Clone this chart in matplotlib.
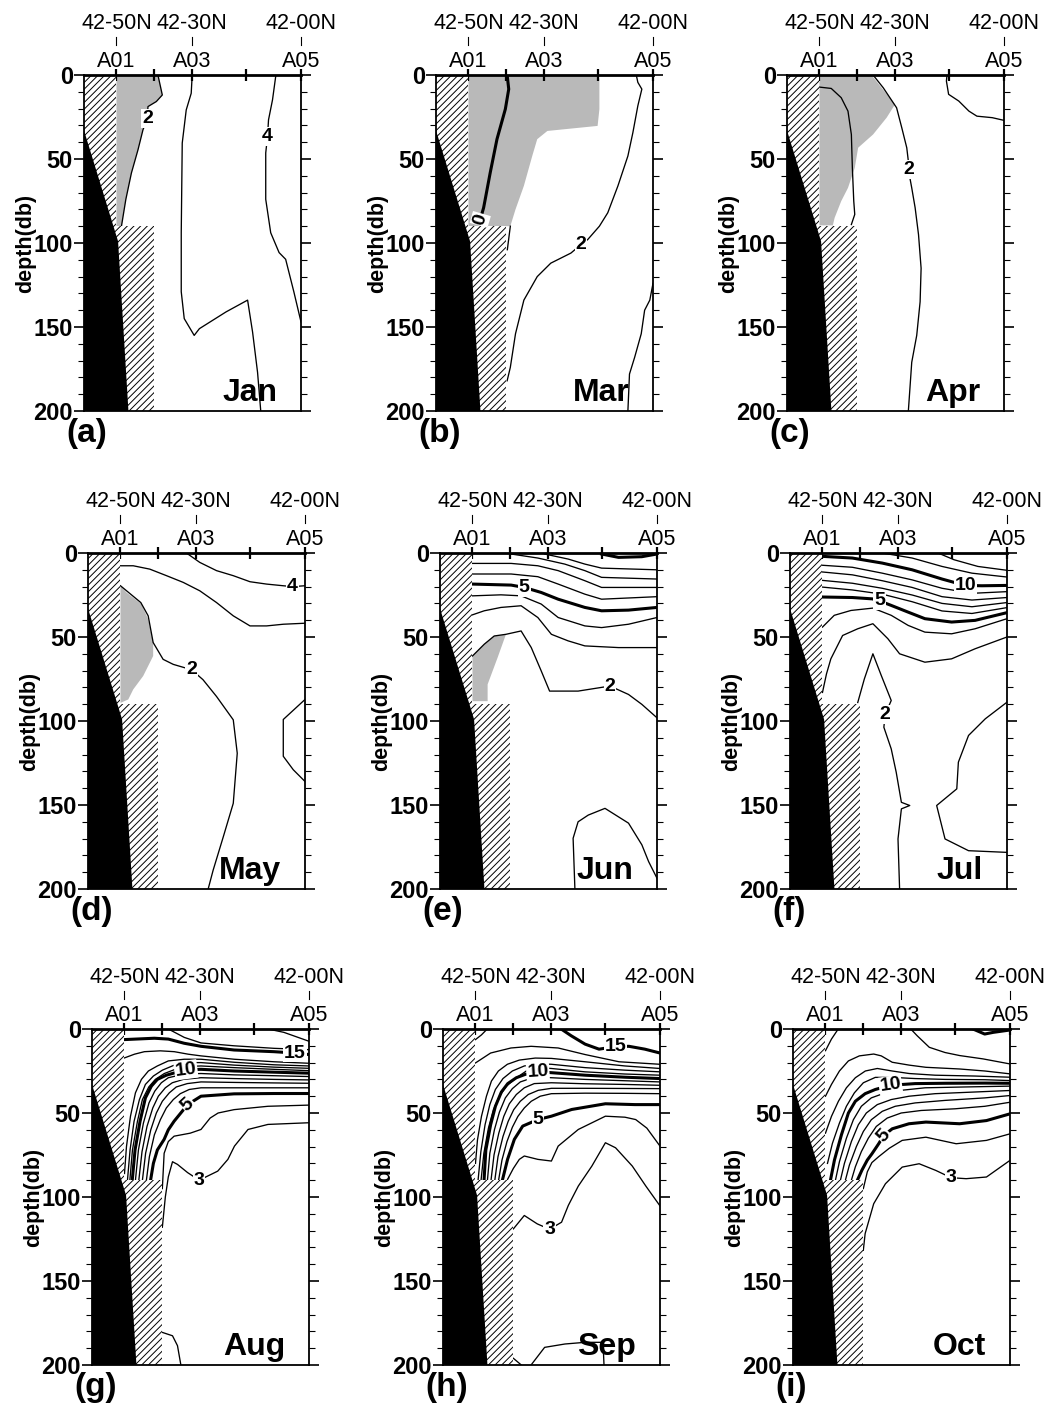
import math
import matplotlib
matplotlib.use("Agg")
import matplotlib.pyplot as plt
import matplotlib.transforms as mtransforms

plt.rcParams['font.family'] = ['Liberation Sans', 'DejaVu Sans']
plt.rcParams['hatch.linewidth'] = 0.7

# stations along the section, km from A01
STATIONS = [0.0, 19.0, 38.0, 65.0, 92.6]
STATION_NAMES = ['A01', '', 'A03', '', 'A05']
LATITUDES = ['42-50N', '', '42-30N', '', '42-00N']
X_WEST = -16.3
X_EAST = 92.6
DEPTH_MAX = 200

# bottom topography (black) and the hatched no-data areas
BOTTOM_X = [X_WEST, 0.8, 6.0, X_WEST]
BOTTOM_Z = [33, 99, 200, 200]
HATCH_WEST_X = [X_WEST, 0.0, 0.0, X_WEST]
HATCH_WEST_Z = [0, 0, 200, 200]
HATCH_SHELF_X = [0.0, 19.0, 19.0, 0.0]
HATCH_SHELF_Z = [90, 90, 200, 200]

# isotherms: (temperature, km, depth, vertex carrying the label or None)
JAN = [
    (2, [20.8, 23.0, 20.0, 15.8, 15.5, 13.3, 10.8, 7.5, 4.7, 2.5, 0.0],
        [0, 11.9, 15.8, 18.8, 26, 32.6, 44.5, 58.3, 74, 90, 92], 4),
    (3, [38, 37.5, 35, 33, 32.5, 32.5, 34, 39, 41.6, 55, 65.8, 68.3, 70.8, 72.4],
        [0, 10.9, 20.8, 40.5, 93.9, 129, 145, 155, 151, 141, 134, 153, 177, 200], None),
    (4, [80, 78.3, 76.3, 75.8, 74.9, 74.9, 77.4, 81.6, 84.9, 89, 92.6],
        [0, 14.8, 26.7, 36.5, 46.4, 74, 93.9, 105.7, 109.7, 129, 147], 3),
]
JAN_GRAY_X = [0, 20.8, 23.0, 20.0, 15.8, 15.5, 13.3, 10.8, 7.5, 4.7, 2.5, 0]
JAN_GRAY_Z = [0, 0, 11.9, 15.8, 18.8, 26, 32.6, 44.5, 58.3, 74, 90, 92]

MAR = [
    (0, [19.4, 20.2, 18.5, 14.3, 10.9, 8.4, 7.6, 5.9],
        [0, 8.4, 20.3, 38.2, 58.2, 74, 79, 86], 7),
    (1, [21, 19.5], [90, 104], None),
    (2, [84.2, 85, 87, 85, 82.5, 80, 75, 69.9, 65.7, 59.8, 56.4, 51.4, 41.3, 34.5, 27.8, 23.6, 21, 19.4],
        [0, 4.4, 8.4, 18.3, 34.3, 48.2, 66, 82, 90, 98, 101, 106, 112, 120, 134, 154, 174, 182], 10),
    (2, [92.6, 91, 88.4, 86.7, 83.4, 80.8, 80],
        [124, 134, 140, 154, 168, 178, 200], None),
]
MAR_GRAY_X = [0, 64.8, 65.7, 65.7, 64.8, 56.4, 39.6, 34.5, 32, 27.8, 23.6, 21, 0]
MAR_GRAY_Z = [0, 0, 2.4, 20.3, 30.3, 31.3, 33.3, 38.2, 48.2, 66, 80, 90, 90]

APR = [
    (1, [0, 5.9, 10.9, 14.3, 16, 16.5, 17.2, 17.7, 16],
        [7.2, 8, 13.5, 21.5, 35.4, 55.3, 75, 83, 89], None),
    (2, [26.9, 32, 38.7, 41.3, 43.8, 44.6, 44.6, 46.3, 48, 49.7, 51, 50.5, 48.8, 46.3, 44.6],
        [0, 7.6, 19.5, 31.4, 43.3, 51.3, 56.3, 67.2, 79, 95, 115, 135, 155, 171, 200], 6),
    (3, [64, 63.7, 64.8, 69.9, 75, 79, 86.7, 92.6],
        [0, 3.6, 11.5, 15.5, 21.5, 24.5, 25.4, 27], None),
]
APR_GRAY_X = [0, 26.1, 31.2, 37.9, 33.7, 26.9, 19.4, 17.7, 14.3, 10.9, 7.6, 6.7, 0]
APR_GRAY_Z = [0, 0, 7.6, 17.5, 25.4, 35.4, 43.3, 55.3, 67.2, 75.1, 85, 89.5, 89.5]

MAY = [
    (4, [33.1, 39.8, 48.2, 56.6, 65, 73.3, 81.7, 86.3, 92.6],
        [0, 5.6, 10.5, 13.5, 17.1, 18.5, 19.5, 20, 19.5], 7),
    (3, [0, 6.4, 14.7, 23.1, 31.5, 39.8, 48.2, 56.6, 65, 73.3, 81.7, 92.6],
        [7.6, 7.6, 9.6, 13.5, 17.5, 22.5, 29.5, 37.4, 43.4, 43.4, 42.4, 41.8], None),
    (2, [0, 10.2, 13.9, 16.4, 21.4, 26.5, 35.7, 41.4, 48.2, 56.6, 58.6, 56.6, 51.6, 46.5, 44],
        [19.5, 29.5, 37.4, 53.3, 63.3, 66.3, 69.5, 75.4, 85.4, 99.3, 119.2, 149, 168.9, 188.8, 200], 6),
    (3, [92.6, 81.7, 81.7, 86.7, 92.6], [87.2, 99.1, 121, 129, 136], None),
]
MAY_GRAY_X = [0, 3, 10.5, 13.9, 16.4, 16.4, 11.4, 6.4, 3.9, 0]
MAY_GRAY_Z = [19.5, 23.5, 30.4, 39.4, 53.3, 61.3, 73.2, 81.2, 87.2, 89.2]

JUN = [
    (10, [64.8, 73.3, 85, 92.6], [0.6, 2.6, 2.2, 0.6], None),
    (9, [36.2, 48, 56.4, 64.8, 92.6], [0.6, 3.6, 6.6, 9, 10], None),
    (8, [19.4, 32.8, 46.3, 56.4, 64.8, 92.6], [0.6, 3, 6.6, 10.5, 14.5, 15.5], None),
    (7, [0, 19.4, 32.8, 43, 56.4, 64.8, 92.6], [6.2, 6.2, 7.6, 10.5, 16.5, 20.5, 20.5], None),
    (6, [0, 19.4, 32.8, 43, 56.4, 64.8, 92.6], [12.5, 12.5, 14.1, 18.5, 24.5, 27.5, 26], None),
    (5, [0, 19.4, 26, 34.5, 43, 56.4, 64.8, 78.3, 92.6],
        [18.5, 19.1, 20.5, 23.5, 27.5, 32.4, 34.4, 34, 32.4], 2),
    (4, [0, 14.3, 24.4, 34.5, 43, 56.4, 64.8, 78.3, 92.6],
        [25.5, 24.9, 25.5, 30.4, 38.4, 43.4, 44.4, 42.4, 38.4], None),
    (3, [0, 5.9, 14.3, 24.4, 32.8, 39.6, 48, 56.4, 73.3, 92.6],
        [36.8, 34.4, 32.4, 31.4, 38.4, 48.4, 52.3, 55.3, 56.3, 56.3], None),
    (2, [0, 5.9, 10.9, 16.8, 24.4, 29.5, 34.5, 38.7, 53, 69, 78.3, 85, 92.6],
        [61.3, 54.3, 49.4, 48.4, 46.4, 56.3, 70.2, 82.2, 82.2, 79.2, 84.2, 90.1, 98.1], 9),
    (2, [51.4, 50.5, 53, 58.1, 66.5, 78.3, 85, 88.4, 92.6],
        [200, 169.8, 160, 156, 152, 160.8, 173.7, 183.7, 193.6], None),
]
JUN_GRAY_X = [0, 5.9, 10.9, 16.8, 12.6, 7.6, 7.6, 0]
JUN_GRAY_Z = [61.3, 54.3, 49.4, 48.4, 62.3, 78.2, 88.2, 88.2]

JUL = [
    (12, [58, 66, 78, 92.6], [0, 4, 8, 10.3], None),
    (11, [30, 45, 60, 75, 92.6], [0, 3, 8, 12, 14.3], None),
    (10, [0, 15, 30, 45, 60, 71.6, 80, 92.6], [2, 3, 6, 10, 15.5, 19.3, 19.5, 19.3], 5),
    (9, [0, 15, 30, 45, 60, 75, 92.6], [7.3, 8.5, 12, 16, 21, 24, 23], None),
    (8, [0, 15, 30, 45, 60, 75, 92.6], [11.3, 13, 16.5, 20.5, 26, 28, 26.5], None),
    (7, [0, 15, 30, 45, 60, 75, 92.6], [16.3, 18, 21, 25, 30, 32, 29.5], None),
    (6, [0, 15, 30, 45, 60, 75, 92.6], [20.3, 22, 24.5, 29, 34.5, 36, 32.5], None),
    (5, [0, 15, 25, 28.6, 34.5, 43, 51.4, 64.8, 76.6, 92.6],
        [26.2, 26.5, 27.3, 28.5, 31.2, 35.2, 39.1, 41.1, 40.1, 35.5], 3),
    (4, [0, 5.9, 14.3, 25.3, 34.5, 43, 51.4, 64.8, 76.6, 92.6],
        [44.1, 37.1, 34.2, 32.8, 37.1, 43.1, 47.1, 48.1, 45.1, 39.1], None),
    (3, [0, 2, 4.2, 10.1, 17.7, 25.3, 32.8, 38.7, 51.4, 64.8, 76.6, 92.6],
        [83, 72, 63, 49.1, 45.1, 42.1, 51, 60, 65, 63, 57, 50], None),
    (2, [17.7, 21, 25.3, 29.5, 34.5, 31.5, 30.8, 34.5, 37, 39.6, 43.8, 39.6, 37.9, 38.7],
        [89, 75, 60, 72.9, 87.8, 96, 103.7, 116.6, 130.5, 148.4, 150.3, 152.3, 170.2, 200], 5),
    (2, [92.6, 81.7, 73.3, 68.2, 67.4, 57.3, 61.5, 73.3, 92.6],
        [88.8, 98.7, 108.6, 124.5, 140.4, 150.3, 170.2, 177.2, 178.2], None),
]

AUG = [
    (17, [72, 80, 92.6], [0, 2, 7.3], None),
    (16, [22, 30, 38.4, 55, 75, 92.6], [0, 5, 8.3, 10, 11.5, 12.3], None),
    (15, [0, 15, 22, 30, 38.4, 55, 75, 85.5, 92.6],
         [6.3, 5.5, 6, 8.5, 10.3, 12.5, 13.5, 14.3, 15.2], 7),
    (14, [0, 5, 10, 18, 25, 32, 38.4, 55, 75, 92.6],
         [17.2, 15, 13.5, 13, 13.5, 15, 16, 18, 19.5, 20.4], None),
    (13, [0, 1, 3, 5.5, 8.5, 12, 16.5, 22, 30, 38.4, 55, 75, 92.6],
         [86, 70, 52, 38, 30, 25, 22, 19, 18, 18, 19.8, 21.3, 22], None),
    (12, [1.5, 2.8, 4.8, 7.5, 10.5, 14.5, 19, 25, 32, 38.4, 55, 75, 92.6],
         [90, 72, 55, 42, 33, 28, 24.5, 21.5, 20, 20, 21.5, 22.7, 23.4], None),
    (11, [2.7, 4, 6.5, 9, 12.2, 15.5, 20, 25.5, 32, 38.4, 55, 75, 92.6],
         [90, 72, 55, 42, 34.5, 30, 26.5, 24, 22.3, 22, 23, 24, 24.8], None),
    (10, [3.9, 5.3, 7.8, 10.5, 13.5, 16.5, 21, 25.5, 30.8, 38.4, 55, 75, 92.6],
         [90, 72, 55, 41, 34, 30, 27.5, 26, 24.3, 24, 25, 25.7, 26.3], 8),
    (9, [5.5, 7, 9.5, 12.3, 15.2, 18.5, 22, 27.5, 33, 38.4, 55, 75, 92.6],
        [90, 72, 56, 44, 37, 32, 29, 27.5, 26.7, 26.5, 27.3, 27.8, 28.3], None),
    (8, [7.2, 8.8, 11.3, 14.2, 17, 20.5, 24, 29.5, 38.4, 55, 75, 92.6],
        [90, 73, 58, 47, 40, 35, 32, 30, 29, 29.5, 30, 30.3], None),
    (7, [9, 10.6, 13.2, 16, 19, 22.5, 26, 31.5, 38.4, 55, 75, 92.6],
        [90, 74, 60, 50, 43, 38, 34.5, 32.5, 31.5, 31.8, 32.1, 32.3], None),
    (6, [11, 12.5, 15, 18, 21, 24.5, 28, 32.5, 38.4, 55, 75, 92.6],
        [90, 76, 63, 54, 47, 42, 38.5, 36, 35, 35, 35, 35], None),
    (5, [13.1, 14.5, 16.5, 19.9, 22, 24.9, 31.7, 38.4, 55, 75, 92.6],
        [90, 80, 72, 65.7, 60, 54.9, 45, 40, 38.6, 38.4, 38.4], 6),
    (4, [19, 19.9, 22, 24.9, 33, 38.4, 43, 47, 55, 72, 92.6],
        [95, 74, 67, 63.8, 62, 59.8, 53, 50, 48, 46, 45.3], None),
    (3, [19, 20.5, 22, 24.1, 26.6, 31.7, 37.5, 41.8, 46.8, 51.9, 55.2, 62, 72, 92.6],
        [118, 100, 88, 79, 80.6, 85.5, 90, 87.5, 84.6, 77.6, 69.7, 59.8, 56.8, 55.8], 6),
    (3, [19, 24.1, 26.6, 28.3], [180.6, 182.6, 188.5, 200], None),
]

SEP = [
    (15, [43, 48, 55, 62, 70.3, 77, 85, 92.6], [0, 4, 9, 12, 10.5, 10.3, 12, 14.3], 4),
    (14, [5.9, 3, 0], [0, 3.5, 6.3], None),
    (14, [0, 7.6, 17.8, 27.9, 41.5, 55, 72, 92.6], [20.2, 14.3, 11.3, 10.3, 11.3, 15.2, 19.5, 21], None),
    (13, [0, 1, 3, 5.5, 8, 11.5, 16, 22, 30, 38.1, 55, 75, 92.6],
         [80, 66, 52, 40, 31, 25, 21, 18.5, 17.3, 17.5, 19.5, 22, 23.5], None),
    (12, [1.3, 2.7, 4.8, 7.2, 10, 13.8, 18.5, 24.5, 31.3, 38.1, 55, 75, 92.6],
         [90, 73, 57, 45, 36, 29.5, 25, 22, 20.7, 21, 23, 24.5, 25.5], None),
    (11, [2.8, 4.2, 6.5, 9, 12, 15.5, 20, 25.5, 31.3, 38.1, 55, 75, 92.6],
         [90, 74, 59, 48, 40, 34, 29.5, 25, 23, 23.5, 25.5, 26.8, 27.5], None),
    (10, [4.3, 5.2, 7.6, 10, 13, 16.2, 20.5, 25, 31.3, 38.1, 55, 75, 92.6],
         [90, 72, 57, 46, 37.5, 32.5, 29, 27, 25.5, 26, 27.5, 28.7, 29.5], 8),
    (9, [6, 7.2, 9.5, 12, 15, 18.5, 22.5, 27.5, 33, 38.1, 55, 75, 92.6],
        [90, 74, 60, 49.5, 41, 35.5, 31.5, 29.5, 28.8, 29, 30, 30.8, 31.5], None),
    (8, [7.8, 9.3, 11.7, 14.2, 17, 20.5, 24.5, 29.5, 38.1, 55, 75, 92.6],
        [90, 75, 62, 52, 44.5, 39, 35, 32.5, 32, 32.6, 33, 33.5], None),
    (7, [9.7, 11.3, 13.8, 16.4, 19.2, 22.5, 26.5, 31.5, 38.1, 55, 75, 92.6],
        [90, 76, 64, 55, 48, 43, 39, 36.5, 35.3, 35.3, 35.4, 35.5], None),
    (6, [11.6, 13.3, 15.8, 18.5, 21.3, 24.5, 28, 32.5, 38.1, 55, 75, 92.6],
        [90, 78, 67, 58.5, 52, 47, 43, 40, 38.5, 38.2, 38.3, 38.5], None),
    (5, [13.5, 16.1, 19.5, 23.7, 31.3, 38.1, 48.3, 65.2, 80, 92.6],
        [90, 77.6, 65.7, 57.8, 53.9, 51.9, 47.9, 44.5, 45, 45], 4),
    (4, [16.1, 19, 22, 24.5, 31.3, 38.1, 41.5, 51.6, 65.2, 75, 80.4, 86, 92.6],
        [89.5, 83, 77.6, 75.6, 77.6, 78.6, 69.7, 59.8, 51.9, 52.5, 53.9, 59, 69.7], None),
    (3, [19, 24.5, 31, 37.2, 43.2, 46.6, 51.6, 58.4, 65.2, 70.3, 78.7, 85.5, 92.6],
        [119, 111, 116, 119.2, 115, 105, 93.5, 81.6, 67.7, 70.7, 81.6, 93.5, 105.3], 3),
    (3, [19, 23], [196, 200], None),
    (3, [27.9, 34.7, 44.9, 55, 64, 64.5], [200, 189.5, 187.5, 186.5, 186.5, 200], None),
]

OCT = [
    (15, [74, 79.9, 84.2, 92.6], [0, 3, 2, 0.6], None),
    (14, [6.4, 3, 0], [0, 6, 12.9], None),
    (14, [42.8, 46, 52.1, 60, 67.3, 79.1, 92.6], [0, 4, 10.9, 14, 15.8, 17.8, 20.8], None),
    (13, [0, 3, 7, 11.5, 17, 24.2, 28, 33.5, 42, 50.4, 67.3, 80, 92.6],
         [40, 33, 25, 19, 16, 14.9, 16, 19.8, 21.5, 22.8, 23.8, 25, 26.7], None),
    (12, [0, 3, 6.5, 10.5, 15, 20, 26, 33.5, 42, 55, 75, 92.6],
         [62, 52, 43, 35, 29, 25, 23.5, 25, 26.5, 27.5, 28, 28.7], None),
    (11, [1, 3.5, 7, 10.5, 14.5, 19, 25, 33.5, 45, 60, 80, 92.6],
         [80, 68, 56, 46, 38, 32, 28.8, 28.8, 29.5, 30, 30.2, 30.7], None),
    (10, [2.5, 4.5, 8, 11.5, 15, 19.9, 25, 32.6, 45, 60, 80, 92.6],
         [90, 78, 63, 50, 43, 38.5, 36, 33.5, 32.5, 32.3, 32.2, 32.3], 7),
    (9, [5, 7, 10.5, 14, 18, 23, 30, 38, 50, 70, 92.6],
        [90, 79, 65, 54, 46, 41, 38, 36.5, 35, 34.5, 34], None),
    (8, [7.5, 9.5, 13, 16.5, 20.5, 26, 33, 42, 55, 75, 92.6],
        [90, 80, 67, 57, 50, 45, 42, 40, 38.5, 37.5, 36.6], None),
    (7, [10, 12, 15.5, 19, 23, 28.5, 35, 45, 60, 80, 92.6],
        [90, 81, 70, 61, 54, 49, 46, 44, 42.5, 41, 39.6], None),
    (6, [13, 15, 18, 21.5, 25.5, 31, 38, 48, 65, 80, 92.6],
        [90, 82, 73, 65, 58, 53, 50, 48.5, 47.5, 46, 43.6], None),
    (5, [16, 18.3, 21, 23.3, 26.7, 29.2, 33.5, 41.9, 50.4, 67.3, 80.8, 92.6],
        [90, 84, 78, 74.3, 68.3, 63.4, 59.4, 56.4, 55.4, 56.4, 54.5, 50.5], 5),
    (4, [19, 21, 23.3, 26.7, 32, 38.5, 50.4, 65.6, 80.8, 92.6],
        [95, 85, 79.5, 76, 71, 66.3, 64.4, 68.3, 66.3, 62.4], None),
    (3, [19, 19.9, 24.2, 30.1, 38.5, 47, 55.4, 63, 70.6, 80.8, 92.6],
        [131.7, 121.8, 104, 92.1, 82.2, 80.2, 84.2, 88.5, 89.1, 88.1, 78.2], 7),
]

MONTHS = ['Jan', 'Mar', 'Apr', 'May', 'Jun', 'Jul', 'Aug', 'Sep', 'Oct']
TAGS = ['(a)', '(b)', '(c)', '(d)', '(e)', '(f)', '(g)', '(h)', '(i)']
SECTIONS = [JAN, MAR, APR, MAY, JUN, JUL, AUG, SEP, OCT]
GRAY_AREAS = [(JAN_GRAY_X, JAN_GRAY_Z), (MAR_GRAY_X, MAR_GRAY_Z), (APR_GRAY_X, APR_GRAY_Z),
              (MAY_GRAY_X, MAY_GRAY_Z), (JUN_GRAY_X, JUN_GRAY_Z), None, None, None, None]
# labels written along the isotherm rather than upright
TILTED = [('Mar', 0), ('Aug', 10), ('Aug', 5), ('Sep', 10), ('Oct', 10), ('Oct', 5)]

# panel placement in pixels (left, top)
PANEL_LEFT = [[84, 436, 787], [88, 440, 790], [92, 443, 793]]
PANEL_TOP = [75, 553, 1029]
PANEL_W, PANEL_H = 217, 336
FIG_W, FIG_H = 1046, 1410

fig = plt.figure(figsize=(FIG_W / 100, FIG_H / 100), dpi=100)


def label_angle(ax, xs, zs, i):
    a = max(i - 1, 0)
    b = min(i + 1, len(xs) - 1)
    p0 = ax.transData.transform((xs[a], zs[a]))
    p1 = ax.transData.transform((xs[b], zs[b]))
    ang = math.degrees(math.atan2(p1[1] - p0[1], p1[0] - p0[0]))
    if ang > 90:
        ang -= 180
    if ang < -90:
        ang += 180
    return ang


def draw_section(ax, month, tag, lines, gray):
    ax.set_xlim(X_WEST, X_EAST)
    ax.set_ylim(DEPTH_MAX, 0)

    if gray is not None:
        ax.fill(gray[0], gray[1], color='#b9b9b9', lw=0, zorder=1)

    for level, xs, zs, lab in lines:
        bold = level % 5 == 0
        ax.plot(xs, zs, color='black', lw=2.2 if bold else 0.95, zorder=2,
                solid_joinstyle='round')
        if lab is not None:
            rot = label_angle(ax, xs, zs, lab) if (month, level) in TILTED else 0
            ax.text(xs[lab], zs[lab], str(level), fontsize=14, fontweight='bold',
                    ha='center', va='center', rotation=rot, rotation_mode='anchor',
                    zorder=6, bbox=dict(fc='white', ec='none', pad=0.5))

    # hatched areas and the bottom
    ax.fill(HATCH_WEST_X, HATCH_WEST_Z, facecolor='white', edgecolor='black',
            hatch='/////', lw=0, zorder=3)
    ax.fill(HATCH_SHELF_X, HATCH_SHELF_Z, facecolor='white', edgecolor='black',
            hatch='/////', lw=0, zorder=3)
    ax.fill(BOTTOM_X, BOTTOM_Z, color='black', lw=0, zorder=4)

    # station marks along the top
    ax.set_xticks(STATIONS)
    ax.tick_params(axis='x', bottom=False, top=True, labelbottom=False, labeltop=False,
                   direction='inout', length=9, width=1.6)
    trans = mtransforms.blended_transform_factory(ax.transData, ax.transAxes)
    for s, name, lat in zip(STATIONS, STATION_NAMES, LATITUDES):
        if name:
            ax.text(s, 1.025, name, transform=trans, ha='center', va='baseline', fontsize=15.5)
        if lat:
            ax.text(s, 1.137, lat, transform=trans, ha='center', va='baseline', fontsize=15.5)
            ax.plot([s, s], [1.089, 1.113], transform=trans, color='black', lw=0.8,
                    clip_on=False)

    ax.set_yticks([0, 50, 100, 150, 200])
    ax.set_yticks(range(0, 201, 10), minor=True)
    ax.tick_params(axis='y', which='major', left=True, right=True, direction='out',
                   length=7, width=1.2, labelsize=17, pad=1)
    ax.tick_params(axis='y', which='minor', left=True, right=True, direction='out',
                   length=4, width=0.8)
    for t in ax.get_yticklabels():
        t.set_fontweight('bold')
    for side in ['left', 'right', 'bottom']:
        ax.spines[side].set_linewidth(1.3)
    ax.spines['top'].set_linewidth(2.0)
    for sp in ax.spines.values():
        sp.set_zorder(5)

    ax.text(-0.27, 0.5, 'depth(db)', transform=ax.transAxes, rotation=90,
            ha='center', va='center', fontsize=15.5, fontweight='bold')
    ax.text(0.89, 0.03, month, transform=ax.transAxes, ha='right', va='baseline',
            fontsize=23, fontweight='bold', zorder=7)
    ax.text(-0.08, -0.02, tag, transform=ax.transAxes, ha='left', va='top',
            fontsize=24, fontweight='bold')


for k in range(9):
    r, c = divmod(k, 3)
    left = PANEL_LEFT[r][c] / FIG_W
    bottom = 1 - (PANEL_TOP[r] + PANEL_H) / FIG_H
    ax = fig.add_axes([left, bottom, PANEL_W / FIG_W, PANEL_H / FIG_H])
    draw_section(ax, MONTHS[k], TAGS[k], SECTIONS[k], GRAY_AREAS[k])

fig.savefig('out.png', dpi=100)
